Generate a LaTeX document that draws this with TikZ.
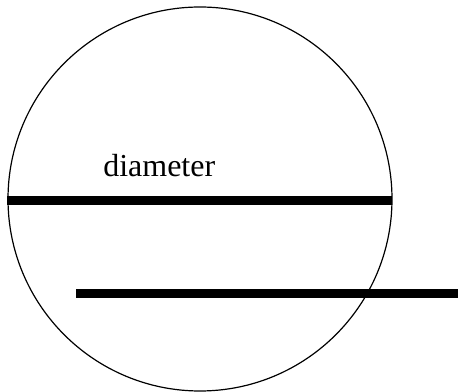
\documentclass[tikz,border=0pt]{standalone}
\usepackage{fontspec}
\setmainfont{Liberation Serif}
\begin{document}
\begin{tikzpicture}[x=0.75pt,y=-0.75pt,
  thickbar/.style={line width=6.75pt},
  rim/.style={line width=0.9pt},
  lbl/.style={inner sep=0pt,anchor=base west,font=\fontsize{24pt}{28pt}\selectfont}]
\useasboundingbox (0,0) rectangle (458,392);
\node[rim,draw,circle,minimum size=384*0.75pt,inner sep=0pt] (c) at (200,199) {};
\coordinate (d1) at (7,201);
\coordinate (d2) at (392,201);
\draw[thickbar] (d1) -- (d2);
\coordinate (s1) at (76,294);
\coordinate (s2) at (458,294);
\draw[thickbar] (s1) -- (s2);
\node[lbl] (t) at (103,177) {diameter};
\end{tikzpicture}
\end{document}
